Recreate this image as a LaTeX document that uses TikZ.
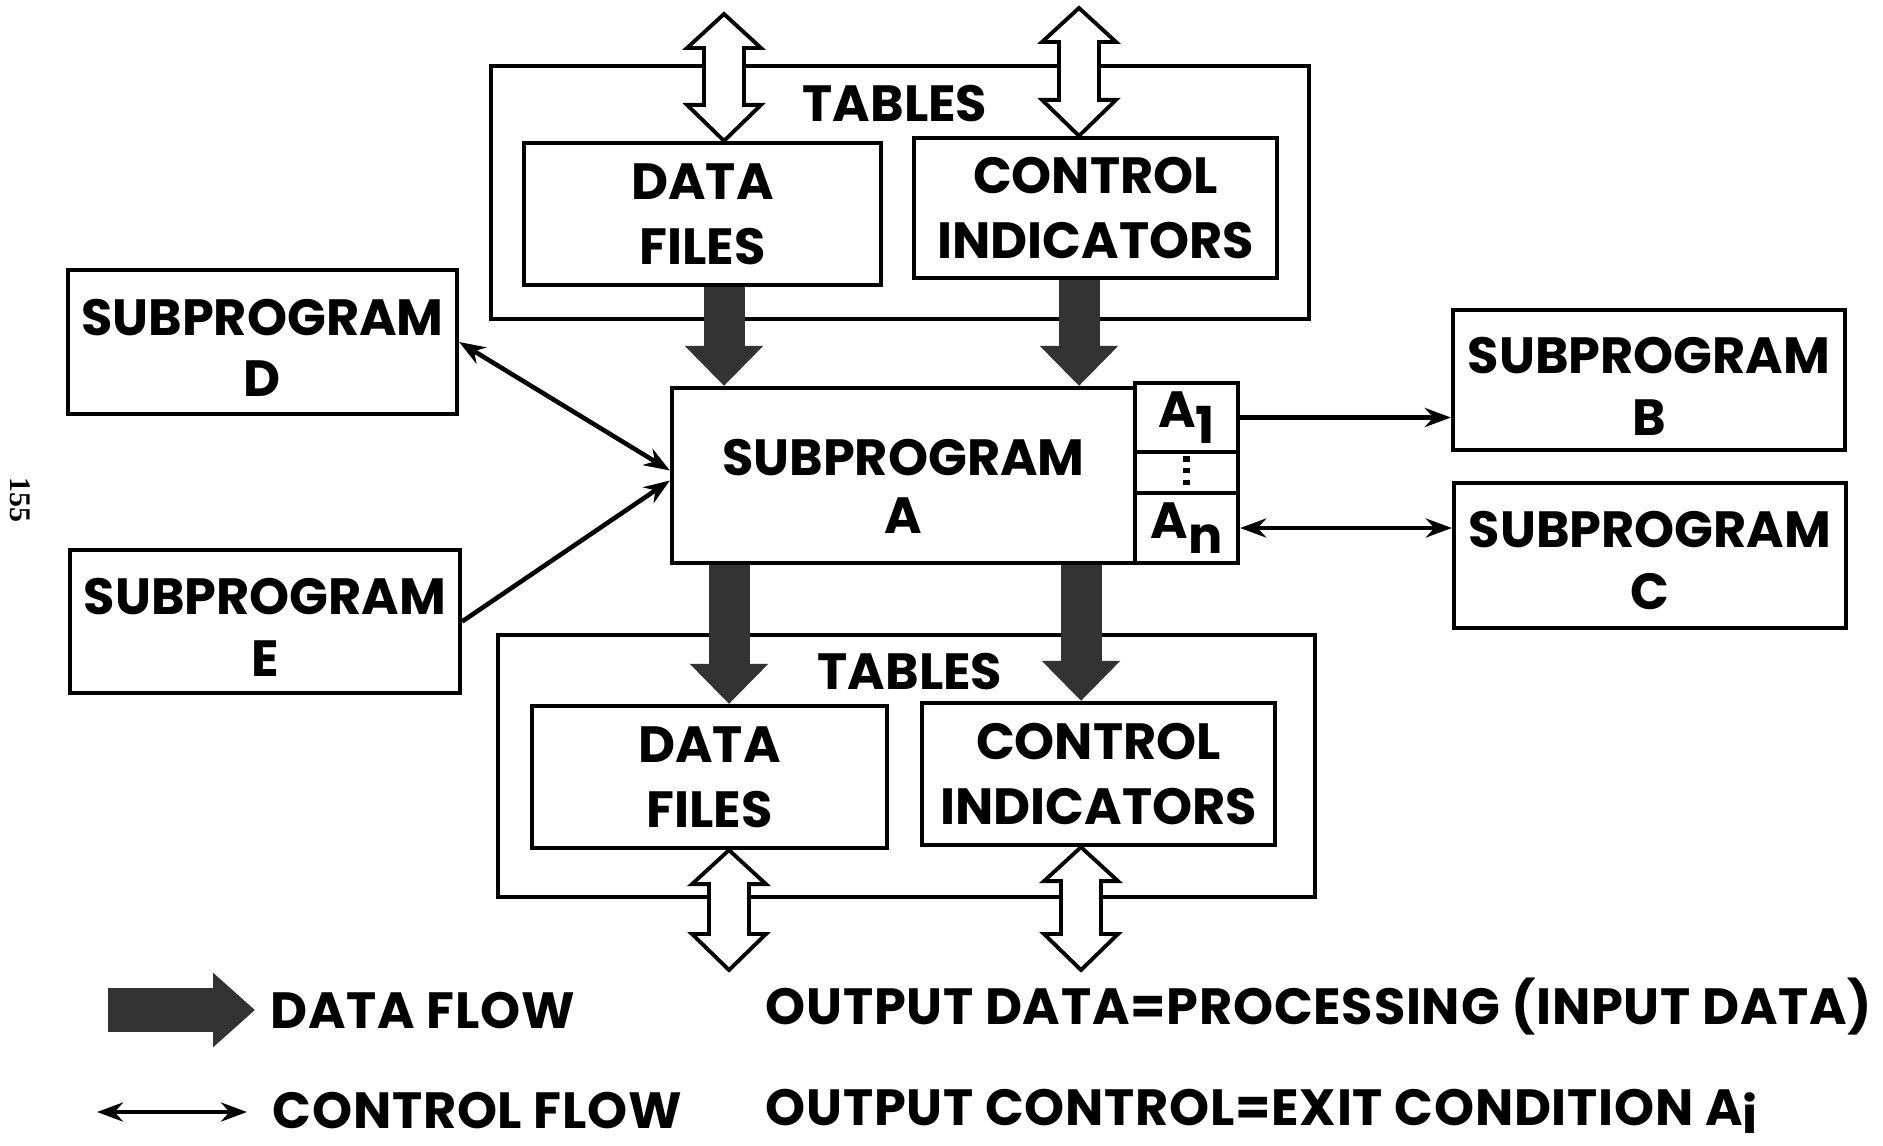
\documentclass[tikz,border=0pt]{standalone}
\usepackage{fontspec}
\setmainfont{Poppins}
\newfontfamily\pagefont{Liberation Serif}
\usetikzlibrary{arrows.meta,calc}

\tikzset{
    box/.style={draw, line width=1.2pt, align=center, inner sep=0pt,
        font=\bfseries\fontsize{14.5}{18.5}\selectfont},
    subbox/.style={box, font=\bfseries\fontsize{14.5}{17.5}\selectfont},
    tables/.style={draw, line width=1.2pt, inner sep=0pt},
    label/.style={inner sep=0pt, font=\bfseries\fontsize{14.5}{18}\selectfont},
    legend/.style={inner sep=0pt, anchor=base west,
        font=\bfseries\fontsize{14.5}{17}\selectfont\addfontfeatures{LetterSpace=1.5}},
    dataflow/.style={line width=4.1mm, draw=black!80, -{Triangle[length=4mm,width=7.6mm]}},
    hollowflow/.style={draw, line width=1.1pt, fill=white, line join=miter},
    ctrlto/.style={line width=1.3pt, -{Stealth[length=2.6mm,width=1.9mm]}},
    ctrlboth/.style={line width=1.3pt, {Stealth[length=2.6mm,width=1.9mm]}-{Stealth[length=2.6mm,width=1.9mm]}}
}

\newcommand{\topgap}[1]{\rule{0pt}{#1}}
\newcommand{\hollowarrow}[2]{%
    \draw[hollowflow] (#1) -- ++(0.37,-0.34) -- ++(-0.17,0) -- ($(#2)+(0.20,0.36)$)
        -- ++(0.17,0) -- (#2) -- ++(-0.37,0.36) -- ++(0.17,0)
        -- ($(#1)+(-0.20,-0.34)$) -- ++(-0.17,0) -- cycle;}

\begin{document}
\begin{tikzpicture}
        \useasboundingbox (0,0) rectangle (18.83,11.45);

        \node[tables, minimum width=8.18cm, minimum height=2.53cm] (ttables) at (9.00,9.525) {};
        \node[label] (ttablab) at (8.95,10.41) {TABLES};
        \node[box, minimum width=3.57cm, minimum height=1.42cm] (tdata) at (7.025,9.31) {DATA\\FILES};
        \node[box, minimum width=3.63cm, minimum height=1.40cm] (tctrl) at (10.955,9.37) {CONTROL\\INDICATORS};

        \node[tables, minimum width=8.17cm, minimum height=2.62cm] (btables) at (9.065,3.79) {};
        \node[label] (btablab) at (9.10,4.73) {TABLES};
        \node[box, minimum width=3.55cm, minimum height=1.42cm] (bdata) at (7.095,3.68) {DATA\\FILES};
        \node[box, minimum width=3.53cm, minimum height=1.42cm] (bctrl) at (10.985,3.71) {CONTROL\\INDICATORS};

        \node[subbox, minimum width=4.63cm, minimum height=1.75cm, font=\bfseries\fontsize{14.5}{16.5}\selectfont] (subA) at (9.035,6.695) {\topgap{5.8mm}SUBPROGRAM\\A};
        \node[box, minimum width=1.03cm, minimum height=0.69cm] (a1) at (11.865,7.275) {A\raisebox{-0.55ex}{1}};
        \node[box, minimum width=1.03cm, minimum height=0.41cm] (adots) at (11.865,6.725) {};
        \node[box, minimum width=1.03cm, minimum height=0.70cm] (an) at (11.865,6.17) {A\raisebox{-0.55ex}{n}};
        \draw[line width=1.8pt, dash pattern=on 1.6pt off 1.8pt, shorten <=0.6mm, shorten >=0.6mm] (adots.north) -- (adots.south);

        \node[subbox, minimum width=3.89cm, minimum height=1.44cm] (subD) at (2.625,8.03) {\topgap{4.8mm}SUBPROGRAM\\D};
        \node[subbox, minimum width=3.90cm, minimum height=1.43cm] (subE) at (2.65,5.235) {\topgap{4.8mm}SUBPROGRAM\\E};
        \node[subbox, minimum width=3.92cm, minimum height=1.40cm] (subB) at (16.49,7.65) {\topgap{4.9mm}SUBPROGRAM\\B};
        \node[subbox, minimum width=3.92cm, minimum height=1.45cm] (subC) at (16.50,5.895) {\topgap{4.6mm}SUBPROGRAM\\C};

        \coordinate (tdtop) at (7.24,11.31);
        \coordinate (tctop) at (10.79,11.37);
        \coordinate (bdbot) at (7.29,1.75);
        \coordinate (bcbot) at (10.81,1.75);

        \hollowarrow{tdtop}{tdata.north -| tdtop}
        \hollowarrow{tctop}{tctrl.north -| tctop}
        \hollowarrow{bdata.south -| bdbot}{bdbot}
        \hollowarrow{bctrl.south -| bcbot}{bcbot}

        \draw[dataflow] (tdata.south -| tdtop) -- (subA.north -| tdtop);
        \draw[dataflow] (tctrl.south -| tctop) -- (subA.north -| tctop);
        \draw[dataflow] (subA.south -| bdbot) -- (bdata.north -| bdbot);
        \draw[dataflow] (subA.south -| bcbot) -- (bctrl.north -| bcbot);

        \draw[ctrlboth] (subD.east) -- ([yshift=0.5mm]subA.west);
        \draw[ctrlto] (subE.east) -- ([yshift=-0.5mm]subA.west);
        \draw[ctrlto] (a1.east) -- (a1.east -| subB.west);
        \draw[ctrlboth] (an.east) -- (an.east -| subC.west);

        \coordinate (ldfrom) at (1.08,1.35);
        \coordinate (ldto) at (2.55,1.35);
        \draw[dataflow, line width=4.4mm, -{Triangle[length=4.2mm,width=7.2mm]}] (ldfrom) -- (ldto);
        \node[legend] (ldata) at (2.70,1.17) {DATA FLOW};
        \node[legend] (ldeq) at (7.65,1.21) {OUTPUT DATA=PROCESSING (INPUT DATA)};

        \coordinate (lcfrom) at (0.97,0.33);
        \coordinate (lcto) at (2.47,0.33);
        \draw[ctrlboth] (lcfrom) -- (lcto);
        \node[legend] (lctrl) at (2.72,0.17) {CONTROL FLOW};
        \node[legend] (lceq) at (7.65,0.20) {OUTPUT CONTROL=EXIT CONDITION A\raisebox{-0.3ex}{i}};

        \node[rotate=-90, inner sep=0pt, font=\pagefont\bfseries\fontsize{8.5}{8.5}\selectfont] (pagenum) at (0.20,6.45) {155};
\end{tikzpicture}
\end{document}
